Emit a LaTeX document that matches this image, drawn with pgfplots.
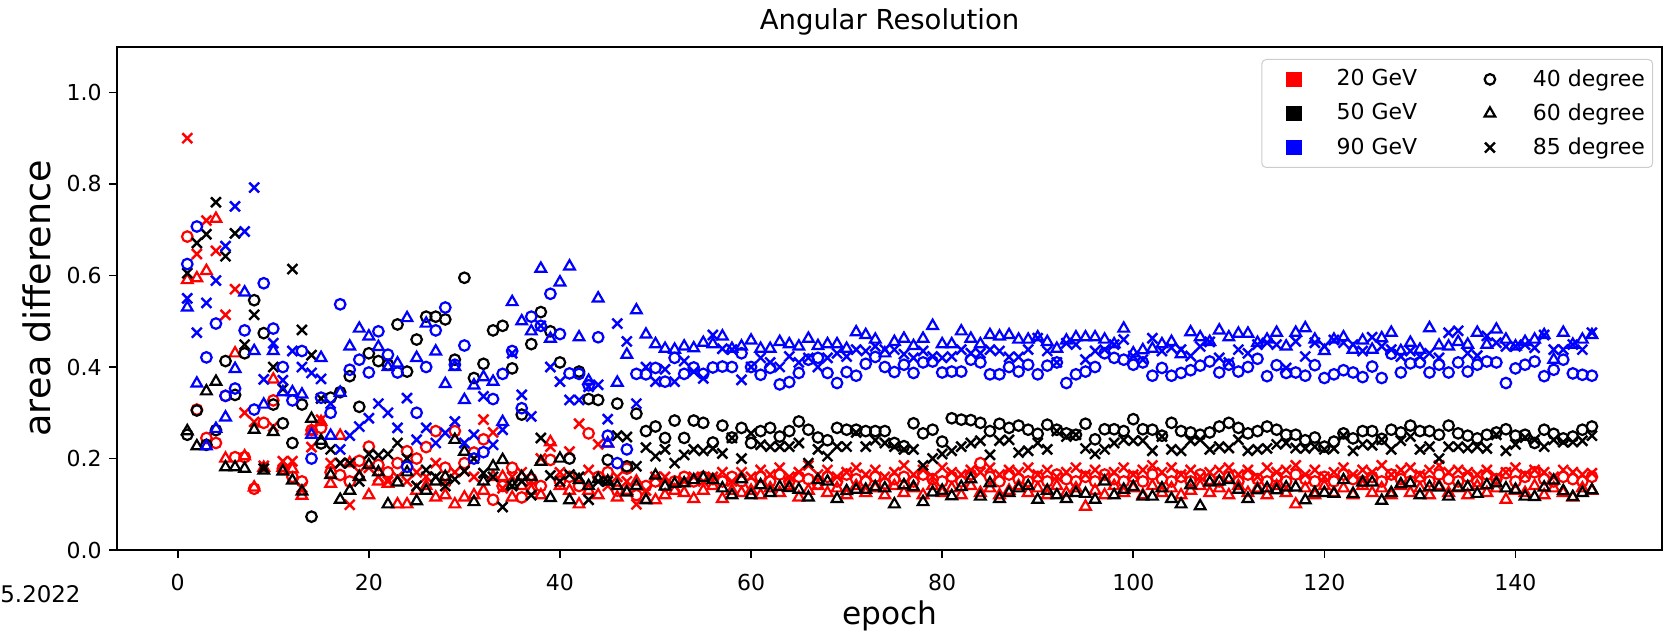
\documentclass[border=0pt]{standalone}
\usepackage{fontspec}
\setmainfont{DejaVu Sans}
\usepackage{pgfplots}
\usepackage{pgfplotstable}
\pgfplotsset{compat=1.18}
\definecolor{legframe}{gray}{0.8}

\pgfplotstableread{
e rc rt rx kc kt kx bc bt bx
1 0.685 0.590 0.900 0.252 0.260 0.605 0.625 0.530 0.550
2 0.307 0.594 0.647 0.305 0.227 0.671 0.707 0.364 0.475
3 0.245 0.610 0.720 0.230 0.347 0.690 0.421 0.227 0.540
4 0.234 0.724 0.654 0.262 0.368 0.760 0.495 0.265 0.589
5 0.337 0.200 0.514 0.413 0.181 0.642 0.337 0.290 0.664
6 0.203 0.430 0.570 0.339 0.181 0.692 0.353 0.396 0.751
7 0.203 0.205 0.300 0.430 0.178 0.449 0.480 0.563 0.696
8 0.134 0.137 0.280 0.546 0.263 0.514 0.307 0.435 0.792
9 0.278 0.180 0.184 0.474 0.174 0.178 0.583 0.318 0.373
10 0.327 0.373 0.270 0.318 0.258 0.400 0.484 0.435 0.452
11 0.178 0.180 0.194 0.277 0.172 0.352 0.400 0.345 0.371
12 0.160 0.177 0.194 0.234 0.152 0.614 0.327 0.345 0.435
13 0.150 0.119 0.137 0.318 0.128 0.481 0.435 0.340 0.400
14 0.262 0.260 0.225 0.073 0.287 0.426 0.200 0.252 0.387
15 0.267 0.280 0.285 0.233 0.239 0.331 0.333 0.420 0.374
16 0.170 0.145 0.190 0.333 0.164 0.220 0.300 0.250 0.320
17 0.164 0.250 0.190 0.345 0.110 0.190 0.537 0.344 0.220
18 0.150 0.190 0.099 0.380 0.130 0.190 0.394 0.445 0.250
19 0.195 0.160 0.170 0.313 0.160 0.150 0.416 0.484 0.270
20 0.226 0.120 0.180 0.430 0.186 0.210 0.388 0.467 0.288
21 0.186 0.150 0.160 0.413 0.170 0.207 0.478 0.444 0.320
22 0.170 0.145 0.150 0.405 0.100 0.210 0.427 0.400 0.300
23 0.190 0.100 0.160 0.493 0.148 0.234 0.388 0.408 0.267
24 0.216 0.100 0.150 0.390 0.170 0.200 0.182 0.507 0.332
25 0.200 0.130 0.170 0.460 0.107 0.140 0.300 0.420 0.241
26 0.225 0.140 0.160 0.510 0.130 0.175 0.400 0.495 0.267
27 0.260 0.115 0.190 0.510 0.150 0.160 0.480 0.434 0.234
28 0.180 0.120 0.150 0.504 0.160 0.140 0.530 0.363 0.256
29 0.260 0.100 0.170 0.416 0.241 0.155 0.405 0.400 0.281
30 0.190 0.115 0.172 0.595 0.215 0.173 0.447 0.328 0.234
31 0.213 0.120 0.160 0.376 0.105 0.200 0.200 0.360 0.252
32 0.242 0.130 0.285 0.407 0.150 0.168 0.214 0.378 0.336
33 0.110 0.160 0.257 0.480 0.183 0.160 0.330 0.368 0.230
34 0.140 0.160 0.135 0.490 0.197 0.094 0.385 0.280 0.263
35 0.180 0.115 0.160 0.397 0.142 0.140 0.435 0.542 0.430
36 0.115 0.140 0.170 0.296 0.160 0.150 0.310 0.500 0.339
37 0.155 0.130 0.150 0.450 0.160 0.120 0.510 0.478 0.292
38 0.140 0.120 0.200 0.520 0.193 0.245 0.490 0.615 0.490
39 0.197 0.236 0.226 0.478 0.114 0.163 0.560 0.462 0.400
40 0.150 0.140 0.170 0.410 0.200 0.150 0.472 0.585 0.368
41 0.160 0.130 0.215 0.200 0.109 0.165 0.386 0.620 0.328
42 0.140 0.100 0.276 0.390 0.153 0.160 0.385 0.465 0.328
43 0.255 0.130 0.175 0.330 0.140 0.110 0.360 0.370 0.357
44 0.160 0.120 0.231 0.328 0.155 0.150 0.465 0.550 0.361
45 0.170 0.233 0.140 0.197 0.150 0.150 0.250 0.233 0.286
46 0.130 0.115 0.160 0.320 0.140 0.250 0.190 0.366 0.495
47 0.178 0.130 0.150 0.183 0.126 0.247 0.220 0.427 0.456
48 0.120 0.150 0.100 0.298 0.140 0.183 0.385 0.524 0.320
49 0.140 0.110 0.130 0.260 0.109 0.224 0.384 0.471 0.400
50 0.150 0.109 0.160 0.270 0.163 0.205 0.398 0.450 0.368
51 0.140 0.120 0.160 0.245 0.139 0.220 0.368 0.440 0.395
52 0.150 0.130 0.140 0.283 0.145 0.190 0.420 0.438 0.368
53 0.160 0.125 0.150 0.245 0.146 0.208 0.385 0.445 0.413
54 0.150 0.112 0.160 0.283 0.153 0.220 0.399 0.441 0.390
55 0.160 0.130 0.150 0.278 0.158 0.217 0.385 0.453 0.375
56 0.155 0.140 0.160 0.235 0.153 0.222 0.399 0.450 0.470
57 0.150 0.112 0.170 0.272 0.135 0.211 0.401 0.467 0.440
58 0.160 0.130 0.150 0.246 0.120 0.245 0.400 0.440 0.438
59 0.150 0.125 0.170 0.267 0.155 0.200 0.430 0.445 0.372
60 0.145 0.130 0.160 0.234 0.120 0.255 0.400 0.458 0.400
61 0.160 0.120 0.175 0.260 0.142 0.230 0.383 0.440 0.420
62 0.150 0.135 0.165 0.267 0.125 0.226 0.398 0.440 0.410
63 0.165 0.125 0.180 0.248 0.138 0.226 0.362 0.455 0.400
64 0.150 0.140 0.160 0.260 0.136 0.226 0.367 0.450 0.423
65 0.160 0.115 0.170 0.281 0.132 0.234 0.387 0.445 0.410
66 0.155 0.130 0.185 0.263 0.115 0.190 0.416 0.462 0.420
67 0.145 0.140 0.165 0.246 0.153 0.220 0.420 0.446 0.400
68 0.160 0.125 0.175 0.240 0.150 0.205 0.387 0.450 0.420
69 0.150 0.135 0.160 0.267 0.112 0.226 0.365 0.450 0.430
70 0.165 0.120 0.170 0.263 0.129 0.226 0.389 0.440 0.423
71 0.155 0.140 0.180 0.263 0.132 0.257 0.381 0.476 0.438
72 0.150 0.125 0.165 0.260 0.132 0.226 0.407 0.470 0.435
73 0.160 0.135 0.175 0.260 0.138 0.240 0.422 0.460 0.445
74 0.145 0.120 0.160 0.260 0.135 0.234 0.400 0.430 0.438
75 0.155 0.140 0.170 0.234 0.100 0.226 0.389 0.455 0.438
76 0.160 0.125 0.185 0.227 0.142 0.220 0.405 0.462 0.428
77 0.150 0.135 0.165 0.277 0.138 0.220 0.387 0.446 0.420
78 0.165 0.120 0.175 0.255 0.105 0.185 0.410 0.462 0.435
79 0.155 0.140 0.160 0.263 0.126 0.200 0.412 0.490 0.423
80 0.150 0.125 0.180 0.237 0.130 0.210 0.388 0.450 0.420
81 0.160 0.135 0.170 0.288 0.118 0.217 0.390 0.450 0.423
82 0.150 0.120 0.165 0.285 0.138 0.226 0.390 0.478 0.438
83 0.165 0.140 0.175 0.284 0.155 0.234 0.416 0.462 0.430
84 0.190 0.125 0.170 0.278 0.117 0.239 0.410 0.450 0.430
85 0.160 0.135 0.180 0.260 0.146 0.208 0.384 0.470 0.438
86 0.150 0.120 0.165 0.276 0.112 0.239 0.384 0.467 0.435
87 0.165 0.130 0.175 0.267 0.125 0.241 0.400 0.470 0.422
88 0.155 0.140 0.170 0.272 0.135 0.213 0.390 0.460 0.422
89 0.150 0.125 0.180 0.263 0.140 0.217 0.405 0.460 0.438
90 0.160 0.135 0.165 0.254 0.110 0.234 0.384 0.465 0.463
91 0.150 0.120 0.175 0.274 0.130 0.220 0.403 0.455 0.435
92 0.165 0.140 0.160 0.263 0.120 0.260 0.410 0.440 0.410
93 0.155 0.125 0.170 0.255 0.112 0.248 0.365 0.458 0.452
94 0.150 0.135 0.180 0.252 0.125 0.252 0.384 0.465 0.449
95 0.160 0.095 0.165 0.276 0.123 0.222 0.390 0.465 0.416
96 0.150 0.130 0.175 0.242 0.110 0.210 0.400 0.465 0.435
97 0.165 0.120 0.160 0.264 0.150 0.220 0.430 0.460 0.438
98 0.155 0.140 0.170 0.264 0.120 0.234 0.420 0.450 0.449
99 0.150 0.125 0.180 0.260 0.132 0.241 0.416 0.484 0.460
100 0.160 0.135 0.165 0.286 0.138 0.239 0.405 0.430 0.424
101 0.150 0.120 0.175 0.264 0.117 0.239 0.410 0.437 0.416
102 0.165 0.140 0.185 0.263 0.117 0.217 0.381 0.440 0.463
103 0.155 0.125 0.170 0.250 0.135 0.248 0.398 0.450 0.435
104 0.150 0.135 0.180 0.278 0.112 0.220 0.381 0.455 0.442
105 0.160 0.120 0.165 0.260 0.100 0.217 0.387 0.428 0.438
106 0.150 0.130 0.175 0.257 0.142 0.239 0.393 0.476 0.424
107 0.165 0.140 0.160 0.252 0.096 0.241 0.403 0.465 0.445
108 0.155 0.125 0.170 0.257 0.148 0.220 0.412 0.455 0.455
109 0.150 0.135 0.175 0.270 0.150 0.226 0.388 0.480 0.420
110 0.160 0.120 0.180 0.278 0.153 0.223 0.405 0.465 0.410
111 0.150 0.140 0.165 0.267 0.132 0.241 0.390 0.473 0.438
112 0.165 0.125 0.175 0.255 0.112 0.217 0.400 0.473 0.430
113 0.155 0.135 0.160 0.260 0.131 0.220 0.418 0.453 0.449
114 0.150 0.120 0.180 0.270 0.135 0.222 0.380 0.460 0.453
115 0.160 0.140 0.170 0.263 0.131 0.231 0.404 0.475 0.449
116 0.150 0.125 0.175 0.252 0.137 0.234 0.387 0.445 0.398
117 0.165 0.100 0.185 0.252 0.137 0.223 0.388 0.475 0.456
118 0.155 0.135 0.165 0.240 0.109 0.222 0.381 0.485 0.423
119 0.150 0.120 0.175 0.246 0.125 0.226 0.404 0.460 0.453
120 0.160 0.140 0.160 0.226 0.125 0.220 0.376 0.435 0.445
121 0.150 0.125 0.170 0.237 0.123 0.222 0.384 0.460 0.459
122 0.165 0.135 0.180 0.255 0.153 0.250 0.393 0.465 0.453
123 0.155 0.120 0.165 0.244 0.123 0.217 0.388 0.438 0.449
124 0.150 0.140 0.175 0.260 0.148 0.231 0.378 0.458 0.435
125 0.160 0.125 0.170 0.260 0.148 0.229 0.401 0.438 0.465
126 0.150 0.135 0.185 0.243 0.108 0.241 0.376 0.463 0.445
127 0.165 0.120 0.165 0.263 0.125 0.220 0.429 0.475 0.438
128 0.155 0.140 0.175 0.257 0.144 0.239 0.388 0.435 0.423
129 0.150 0.125 0.180 0.272 0.146 0.248 0.408 0.453 0.435
130 0.160 0.135 0.165 0.260 0.120 0.220 0.410 0.438 0.423
131 0.150 0.120 0.175 0.260 0.138 0.226 0.388 0.485 0.430
132 0.165 0.140 0.185 0.252 0.137 0.200 0.405 0.447 0.420
133 0.155 0.125 0.170 0.272 0.117 0.226 0.388 0.445 0.475
134 0.150 0.135 0.175 0.255 0.137 0.226 0.410 0.455 0.479
135 0.160 0.120 0.170 0.250 0.138 0.223 0.390 0.449 0.430
136 0.150 0.140 0.165 0.244 0.123 0.226 0.405 0.475 0.425
137 0.165 0.125 0.175 0.252 0.142 0.222 0.412 0.449 0.468
138 0.155 0.135 0.160 0.257 0.146 0.252 0.410 0.482 0.453
139 0.168 0.110 0.170 0.264 0.135 0.217 0.365 0.460 0.445
140 0.150 0.130 0.180 0.250 0.132 0.231 0.397 0.445 0.445
141 0.160 0.125 0.165 0.252 0.117 0.246 0.405 0.455 0.449
142 0.170 0.140 0.175 0.234 0.116 0.241 0.412 0.460 0.442
143 0.155 0.120 0.170 0.263 0.137 0.226 0.380 0.470 0.470
144 0.150 0.135 0.160 0.254 0.152 0.241 0.394 0.416 0.438
145 0.160 0.125 0.175 0.244 0.129 0.236 0.416 0.475 0.438
146 0.155 0.115 0.170 0.248 0.116 0.236 0.386 0.449 0.449
147 0.150 0.135 0.165 0.263 0.125 0.239 0.383 0.460 0.438
148 0.160 0.130 0.168 0.270 0.131 0.250 0.381 0.470 0.475
}\data

\pgfplotsset{
  mo/.style={forget plot, only marks, mark=o, mark size=2.4pt, line width=1pt},
  mt/.style={forget plot, only marks, mark=triangle, mark size=2.8pt, line width=1pt},
  mx/.style={forget plot, only marks, mark=x, mark size=3.2pt, line width=1.1pt},
}

\begin{document}
\begin{tikzpicture}
\useasboundingbox (0,0) rectangle (756.7pt,288.6pt);
\begin{axis}[
  at={(53.2pt,38.6pt)}, anchor=south west,
  scale only axis, width=702.2pt, height=228.8pt,
  xmin=-6.35, xmax=155.35, ymin=0, ymax=1.1,
  xtick={0,20,40,60,80,100,120,140},
  xticklabels={0,20,40,60,80,100,120,140},
  ytick={0,0.2,0.4,0.6,0.8,1.0},
  yticklabels={0.0,0.2,0.4,0.6,0.8,1.0},
  tick align=outside, tick pos=left,
  major tick length=3.5pt,
  every tick/.style={black, line width=0.8pt},
  axis line style={line width=0.8pt},
  tick label style={font=\fontsize{10}{12}\selectfont},
  xticklabel style={yshift=-4pt},
  /pgf/number format/assume math mode=true,
  title={Angular Resolution},
  title style={at={(axis description cs:0.5,1)}, anchor=base, yshift=1.8pt, font=\fontsize{12.5}{15}\selectfont, inner sep=0pt},
  xlabel={epoch},
  xlabel style={at={(axis description cs:0.5,0)}, anchor=base, yshift=-33.8pt, font=\fontsize{14.2}{17}\selectfont, inner sep=0pt},
  ylabel={area difference},
  ylabel style={at={(axis description cs:-0.0434,0.5)}, anchor=base, font=\fontsize{16.6}{20}\selectfont, inner sep=0pt},
  legend columns=2,
  legend cell align=left,
  legend image code/.code={\path[draw=none,fill=none] (0pt,-2pt) rectangle (30.5pt,2pt); \draw[#1,/tikz/only marks] plot coordinates {(13pt,0pt)};},
  legend style={at={(axis description cs:1,1)}, anchor=north east, xshift=-4.1pt, yshift=-5.6pt,
    draw=legframe, line width=0.45pt, rounded corners=2pt, fill=white,
    font=\fontsize{10}{12}\selectfont, inner xsep=1.5pt, inner ysep=2.5pt, row sep=2.4pt,
    /tikz/every even column/.append style={column sep=18pt}},
]
% 20 GeV (red)
\addplot[mo, red] table[x=e,y=rc]{\data};
\addplot[mt, red] table[x=e,y=rt]{\data};
\addplot[mx, red] table[x=e,y=rx]{\data};
% 50 GeV (black)
\addplot[mo, black] table[x=e,y=kc]{\data};
\addplot[mt, black] table[x=e,y=kt]{\data};
\addplot[mx, black] table[x=e,y=kx]{\data};
% 90 GeV (blue)
\addplot[mo, blue] table[x=e,y=bc]{\data};
\addplot[mt, blue] table[x=e,y=bt]{\data};
\addplot[mx, blue] table[x=e,y=bx]{\data};
% legend
\addlegendimage{mark=square*, red, mark size=3.3pt, line width=0.4pt}
\addlegendentry{20 GeV}
\addlegendimage{mark=o, black, mark size=2.4pt, line width=1pt}
\addlegendentry{40 degree}
\addlegendimage{mark=square*, black, mark size=3.3pt, line width=0.4pt}
\addlegendentry{50 GeV}
\addlegendimage{mark=triangle, black, mark size=2.8pt, line width=1pt}
\addlegendentry{60 degree}
\addlegendimage{mark=square*, blue, mark size=3.3pt, line width=0.4pt}
\addlegendentry{90 GeV}
\addlegendimage{mark=x, black, mark size=3.2pt, line width=1.1pt}
\addlegendentry{85 degree}
\end{axis}
\node[anchor=base west, inner sep=0pt, font=\fontsize{10.4}{12}\selectfont] at (0pt,15pt) {5.2022};
\end{tikzpicture}
\end{document}
